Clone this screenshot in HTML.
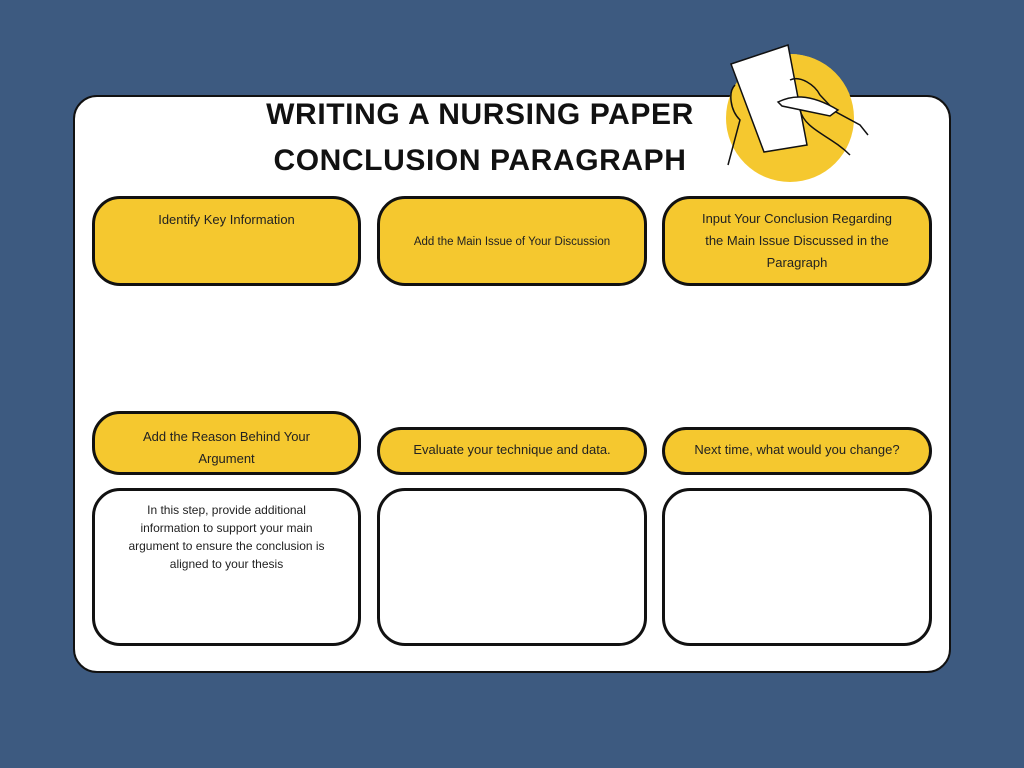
<!DOCTYPE html>
<html><head><style>
body{margin:0;width:1024px;height:768px;background:#3d5a80;position:relative;overflow:hidden;font-family:"Liberation Sans",sans-serif}
.card{position:absolute;left:73px;top:95px;width:874px;height:574px;background:#fff;border:2px solid #111;border-radius:24px}
.b{position:absolute;box-sizing:border-box;border:3.5px solid #111;border-radius:28px;font-size:13px;color:#222;text-align:center;line-height:22px}
.y{background:#f5c82f}
.w{background:#fff}
.t{position:absolute;left:200px;width:560px;text-align:center;font-weight:bold;font-size:30px;letter-spacing:0.6px;color:#111}
</style></head><body>
<svg style="position:absolute;left:0;top:0" width="1024" height="768">
<circle cx="790" cy="118" r="64" fill="#f5c82f"/>
</svg>
<div class="card"></div>
<svg style="position:absolute;left:0;top:0" width="1024" height="768">
<circle cx="790" cy="118" r="64" fill="#f5c82f"/>
<g fill="#fff" stroke="#111" stroke-width="1.5">
<polygon points="731,64 788,45 807,145 764,152"/>
<path d="M735,85 C728,92 730,110 740,120 L728,165" fill="none"/>
<path d="M790,80 C800,75 815,85 820,95 L836,112 L860,125 L868,135" fill="none"/>
<path d="M778,102 C790,96 808,92 838,110 L830,116 L782,106 Z"/>
<path d="M800,110 C805,130 830,135 850,155" fill="none"/>
</g>
</svg>
<div class="t" style="top:98px">WRITING A NURSING PAPER</div>
<div class="t" style="top:144px">CONCLUSION PARAGRAPH</div>

<div class="b y" style="left:92px;top:196px;width:269px;height:90px;padding-top:10px">Identify Key Information</div>
<div class="b y" style="left:377px;top:196px;width:270px;height:90px;padding-top:32px;font-size:11.5px">Add the Main Issue of Your Discussion</div>
<div class="b y" style="left:662px;top:196px;width:270px;height:90px;padding-top:9px">Input Your Conclusion Regarding<br>the Main Issue Discussed in the<br>Paragraph</div>

<div class="b y" style="left:92px;top:411px;width:269px;height:64px;padding-top:12px">Add the Reason Behind Your<br>Argument</div>
<div class="b y" style="left:377px;top:427px;width:270px;height:48px;padding-top:9px">Evaluate your technique and data.</div>
<div class="b y" style="left:662px;top:427px;width:270px;height:48px;padding-top:9px">Next time, what would you change?</div>

<div class="b w" style="left:92px;top:488px;width:269px;height:158px;padding-top:10px;font-size:12px;line-height:18px">In this step, provide additional<br>information to support your main<br>argument to ensure the conclusion is<br>aligned to your thesis</div>
<div class="b w" style="left:377px;top:488px;width:270px;height:158px"></div>
<div class="b w" style="left:662px;top:488px;width:270px;height:158px"></div>
</body></html>
